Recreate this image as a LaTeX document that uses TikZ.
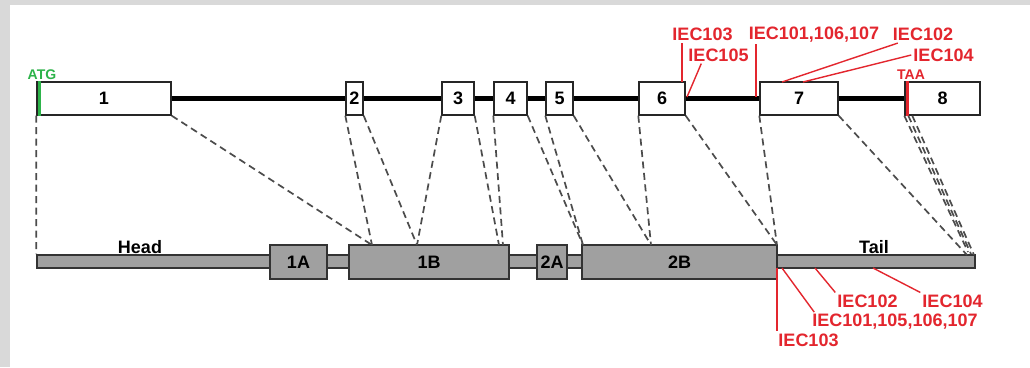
\documentclass[tikz,border=0pt]{standalone}
\usepackage{fontspec}
\setmainfont{Liberation Sans}
\usetikzlibrary{positioning,calc}
\definecolor{iecred}{HTML}{E3262E}
\definecolor{atggreen}{HTML}{2DB34A}
\definecolor{bargray}{HTML}{A0A0A0}
\definecolor{edgegray}{HTML}{D9D9D9}
\newcommand{\lblfont}{\bfseries\fontsize{18}{20}\selectfont}
\tikzset{
  exon/.style={draw=black!85, line width=1.4pt, fill=white, minimum height=33pt, inner sep=0pt, font=\lblfont},
  protbox/.style={draw=black!80, line width=1.6pt, fill=bargray, minimum height=34pt, inner sep=0pt, font=\lblfont},
  intron/.style={line width=4.5pt, black},
  map/.style={dash pattern=on 7pt off 4.5pt, line width=1.7pt, black!70},
  mut/.style={iecred, line width=1.4pt},
  mutlabel/.style={text=iecred, inner sep=2pt, font=\lblfont},
  codon/.style={inner sep=0pt, font=\bfseries\fontsize{14}{15}\selectfont}
}

\begin{document}
\begin{tikzpicture}[x=1pt, y=-1pt]
\useasboundingbox (0,0) rectangle (1030,367);
\fill[white] (0,0) rectangle (1030,367);
\fill[edgegray] (0,0) rectangle (10,367);
\fill[edgegray] (0,0) rectangle (1030,5);

% gene: exons
\node[exon, minimum width=134pt] (e1) at (104,98.5) {1};
\node[exon, minimum width=17pt] (e2) at (354.5,98.5) {2};
\node[exon, minimum width=32pt] (e3) at (458,98.5) {3};
\node[exon, minimum width=33pt] (e4) at (510.5,98.5) {4};
\node[exon, minimum width=27pt] (e5) at (559.5,98.5) {5};
\node[exon, minimum width=46pt] (e6) at (662,98.5) {6};
\node[exon, minimum width=78pt] (e7) at (799,98.5) {7};
\node[exon, minimum width=75pt] (e8) at (942.5,98.5) {8};
\foreach \a/\b in {e1/e2,e2/e3,e3/e4,e4/e5,e5/e6,e6/e7,e7/e8}
  \draw[intron] (\a.east) -- (\b.west);

% start and stop codons
\draw[atggreen, line width=2.5pt] ([xshift=3pt]e1.south west) -- ([xshift=3pt]e1.north west);
\node[codon, text=atggreen] (atg) at (42,75) {ATG};
\draw[iecred, line width=2.5pt] ([xshift=3pt]e8.south west) -- ([xshift=3pt]e8.north west);
\node[codon, text=iecred] (taa) at (911,75) {TAA};

% protein
\node[draw=black!80, line width=1.6pt, fill=bargray, minimum width=938pt, minimum height=13pt, inner sep=0pt] (bar) at (506,261.5) {};
\node[protbox, minimum width=57pt] (d1A) at (298.5,262) {1A};
\node[protbox, minimum width=160pt] (d1B) at (429,262) {1B};
\node[protbox, minimum width=30pt] (d2A) at (552,262) {2A};
\node[protbox, minimum width=195pt] (d2B) at (679.5,262) {2B};
\node[font=\lblfont, inner sep=0pt] (head) at (140,247) {Head};
\node[font=\lblfont, inner sep=0pt] (tail) at (874,247) {Tail};

% exon to protein mapping
\coordinate (m1) at (372,245);
\coordinate (m2) at (417,245);
\coordinate (m3) at (499,245);
\coordinate (m3b) at (503,245);
\coordinate (m4) at (583,245);
\coordinate (m5) at (651,245);
\coordinate (m6) at (777,245);
\coordinate (m7) at (967,255);
\foreach \s/\t in {e1.south west/bar.north west, e1.south east/m1, e2.south west/m1,
    e2.south east/m2, e3.south west/m2, e3.south east/m3, e4.south west/m3b,
    e4.south east/m4, e5.south west/m4, e5.south east/m5, e6.south west/m5,
    e6.south east/m6, e7.south west/m6, e7.south east/m7}
  \draw[map] (\s) -- (\t);
\draw[map] (e8.south west) -- (968,252);
\draw[map] ([xshift=4pt]e8.south west) -- (971,254);
\draw[map] ([xshift=8pt]e8.south west) -- (974,255);

% mutations on the gene
\node[mutlabel] (t103) at (702.5,34.5) {IEC103};
\node[mutlabel] (t101) at (814,34.5) {IEC101,106,107};
\node[mutlabel] (t102) at (923,34.5) {IEC102};
\node[mutlabel] (t105) at (718.5,55) {IEC105};
\node[mutlabel] (t104) at (943.5,55) {IEC104};
\coordinate (a103) at (682,82);
\coordinate (a105) at (687,97);
\coordinate (a101) at (756,97);
\coordinate (a102) at (782,82);
\coordinate (a104) at (803,82);
\draw[mut] (t103.south -| a103) -- (a103);
\draw[mut] ([xshift=15pt]t105.south west) -- (a105);
\draw[mut] (t101.south -| a101) -- (a101);
\draw[mut] ([xshift=7pt]t102.south west) -- (a102);
\draw[mut] (t104.west) -- (a104);

% mutations on the protein
\node[mutlabel] (b103) at (808.5,340) {IEC103};
\node[mutlabel] (b101) at (895,322) {IEC101,105,106,107};
\node[mutlabel] (b102) at (867.5,301) {IEC102};
\node[mutlabel] (b104) at (952.5,301) {IEC104};
\coordinate (c103) at (777,268);
\coordinate (c101) at (782,268);
\coordinate (c102) at (815,268);
\coordinate (c104) at (873,268);
\draw[mut] (c103) -- (b103.north -| c103);
\draw[mut] (c101) -- ([xshift=4pt]b101.north west);
\draw[mut] (c102) -- (b102.north west);
\draw[mut] (c104) -- (b104.north west);
\end{tikzpicture}
\end{document}
